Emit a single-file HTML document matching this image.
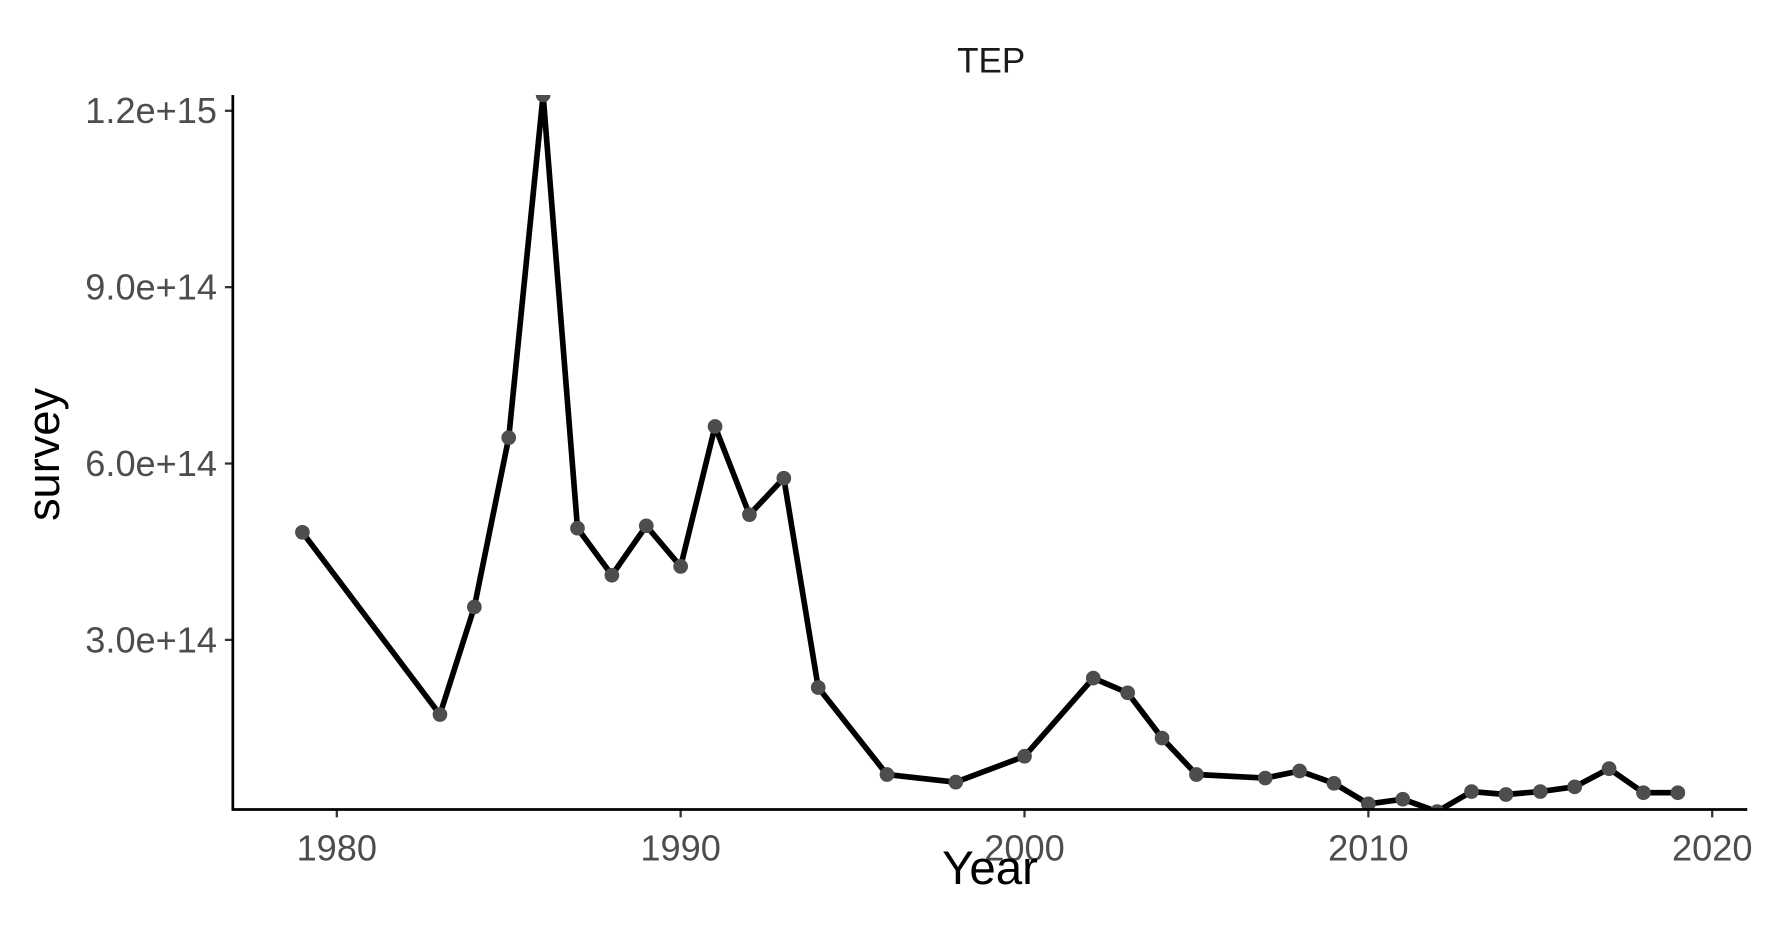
<!DOCTYPE html>
<html><head><meta charset="utf-8"><style>
html,body{margin:0;padding:0;background:#fff;}
svg{display:block;}
text{font-family:"Liberation Sans",Arial,sans-serif;}
</style></head><body>
<svg id="chart" width="1771" height="944" viewBox="0 0 1567 835" preserveAspectRatio="none" xmlns="http://www.w3.org/2000/svg">
<defs><clipPath id="clip"><rect x="207" y="84" width="1340" height="632"/></clipPath></defs>
<text x="877" y="64" font-size="31" text-anchor="middle" fill="#1a1a1a">TEP</text>
<g id="yaxis"></g>
<g id="xaxis"></g>
<g clip-path="url(#clip)"><g id="series"></g></g>
<line x1="206" y1="84" x2="206" y2="717" stroke="#000" stroke-width="2.4"/>
<line x1="205" y1="716" x2="1546" y2="716" stroke="#000" stroke-width="2.4"/>
<text x="876" y="782" font-size="42" text-anchor="middle" fill="#000">Year</text>
<text transform="translate(52,402) rotate(-90)" font-size="40" text-anchor="middle" fill="#000">survey</text>
</svg>
<script>
const years=[1979,1983,1984,1985,1986,1987,1988,1989,1990,1991,1992,1993,1994,1996,1998,2000,2002,2003,2004,2005,2007,2008,2009,2010,2011,2012,2013,2014,2015,2016,2017,2018,2019];
const survey=[4.83e14,1.73e14,3.56e14,6.44e14,12.27e14,4.90e14,4.10e14,4.94e14,4.25e14,6.63e14,5.13e14,5.75e14,2.19e14,0.71e14,0.58e14,1.02e14,2.35e14,2.10e14,1.33e14,0.71e14,0.65e14,0.77e14,0.56e14,0.21e14,0.29e14,0.08e14,0.42e14,0.37e14,0.42e14,0.50e14,0.81e14,0.40e14,0.40e14];
const xTicks=[1980,1990,2000,2010,2020];
const yTicks=[3e14,6e14,9e14,12e14];
const yTickLabels=["3.0e+14","6.0e+14","9.0e+14","1.2e+15"];
const NS="http://www.w3.org/2000/svg";
function xs(v){return 298+(v-1980)*(1515-298)/40;}
function ys(v){return 722-v*156/3e14;}
function mk(tag,attrs,parent){const e=document.createElementNS(NS,tag);for(const k in attrs)e.setAttribute(k,attrs[k]);parent.appendChild(e);return e;}
const ya=document.getElementById('yaxis'),xa=document.getElementById('xaxis'),se=document.getElementById('series');
yTicks.forEach((t,i)=>{
  const l=mk('line',{x1:199,x2:206,y1:ys(t),y2:ys(t),stroke:'#333','stroke-width':2},ya);
  
  
  const tx=mk('text',{x:192,y:ys(t)+11,'font-size':32,'text-anchor':'end',fill:'#4d4d4d'},ya);
  tx.textContent=yTickLabels[i];
  
  
});
xTicks.forEach(t=>{
  const l=mk('line',{x1:xs(t),x2:xs(t),y1:716,y2:723,stroke:'#333','stroke-width':2},xa);
  
  
  const tx=mk('text',{x:xs(t),y:761,'font-size':32,'text-anchor':'middle',fill:'#4d4d4d'},xa);
  tx.textContent=String(t);
  
  
});
const pts=years.map((y,i)=>xs(y)+','+ys(survey[i])).join(' ');
const pl=mk('polyline',{points:pts,fill:'none',stroke:'#000','stroke-width':5,'stroke-linejoin':'round'},se);


years.forEach((y,i)=>{
  const c=mk('circle',{cx:xs(y),cy:ys(survey[i]),r:6.5,fill:'#4d4d4d'},se);
  
  
});
</script>
</body></html>
